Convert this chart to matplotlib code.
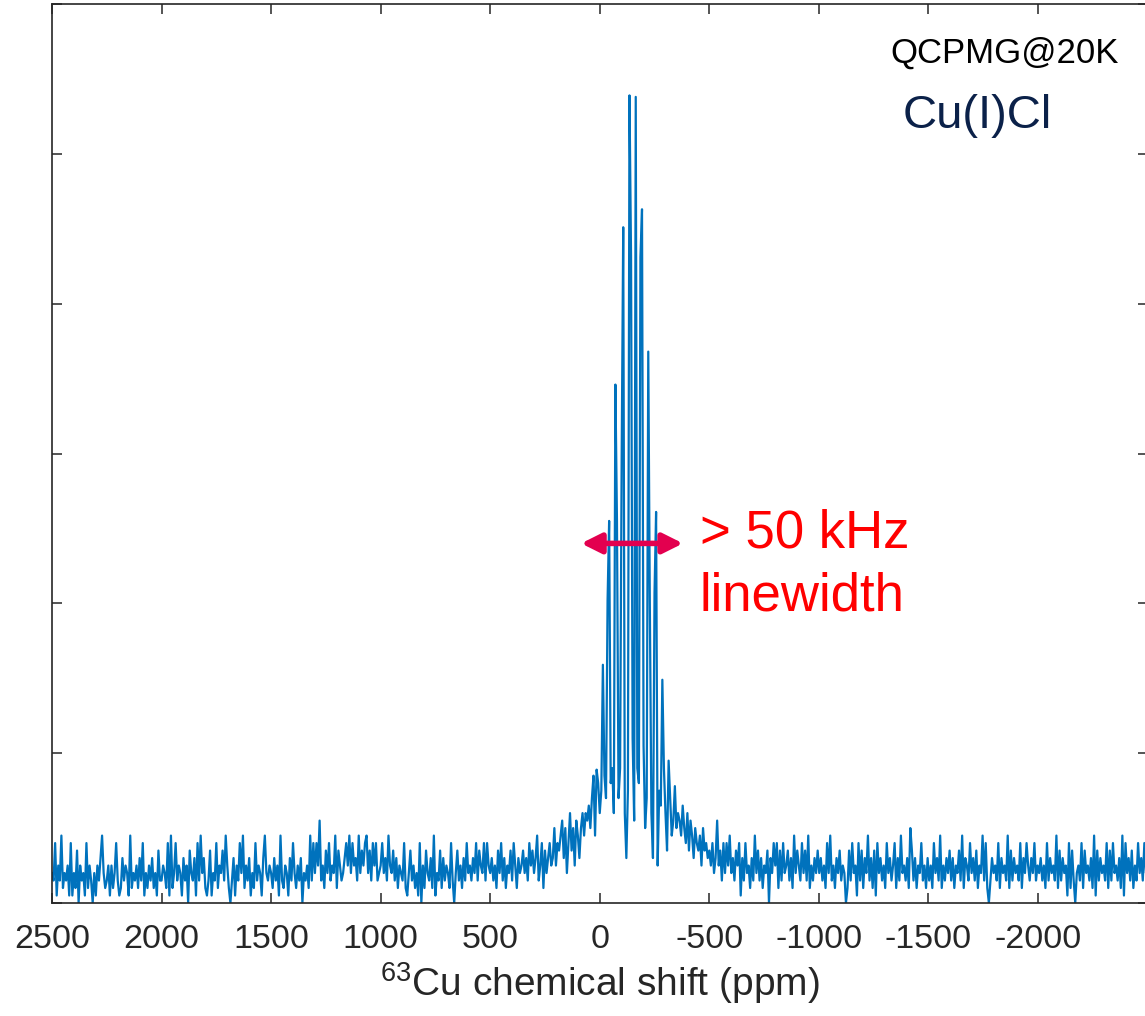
import numpy as np
import matplotlib.pyplot as plt

plt.rcParams['font.family'] = ['Liberation Sans', 'DejaVu Sans']
plt.rcParams['mathtext.fontset'] = 'custom'
plt.rcParams['mathtext.rm'] = 'Liberation Sans'

# baseline / hump levels, one base-36 char per sample, value = code * 0.05
left_codes = ("4381539243518142705341825304153694235152483126354192435263814253624173"
              "3542819248354163507436183946213714382547395203615384925361428354169435"
              "4263519325416384253604352938485b35274835492753468594856394758947385834"
              "5846395473625438214735241805274362914372635428304735263845364837548385")
center_codes = ("46352748362547385264"
                "57463857469358274685"
                "6a5879b6a48c7a5b96ac"
                "9cbdaeh9dgcfbheadgic"
                "g5ei3kc6fj4mb7ig3dla"
                "e4gc6hb5fd8ic7ge9bda"
                "cb9da8c7b96a8795a786")
right_codes = ("75846b5738485946375816384526394736254706485827384573629475384739253647"
               "4635284935264735402738451837264936271846352846358263945362a73625483526"
               "3528463925364736254739265384637254938203645382645392736453826485364835"
               "4635283645392736451827304538274536291736453827384536291846372538463845")

# QCPMG spikelets
spike_ppm = [15, -15, -45, -75, -105, -135, -165, -194, -224, -254, -284, -314, -344]
spike_height = [0.89, 1.59, 2.55, 3.46, 4.51, 5.39, 5.38, 4.63, 3.68, 2.61, 1.49, 0.95, 0.78]
companion_offset = [0, 0, -1, 1, -1, 1, 0, -1, 1, -1, 0, 0, 0]
companion_height = [0, 0, 2.02, 2.55, 2.97, 4.31, 0, 4.31, 1.99, 2.07, 0, 0, 0]

xticks = [2500, 2000, 1500, 1000, 500, 0, -500, -1000, -1500, -2000]


def decode(s):
    return np.array([int(c, 36) for c in s]) * 0.05


ppm = np.concatenate([
    np.linspace(2500, 500, len(left_codes), endpoint=False),
    np.linspace(500, -500, len(center_codes), endpoint=False),
    np.linspace(-500, -2500, len(right_codes)),
])
y = np.concatenate([decode(left_codes), decode(center_codes), decode(right_codes)])

for p, h, off, h2 in zip(spike_ppm, spike_height, companion_offset, companion_height):
    i = int(np.argmin(np.abs(ppm - p)))
    y[i] = h
    if off != 0:
        y[i + off] = h2

fig = plt.figure(figsize=(11.45, 10.16), dpi=100)
ax = fig.add_axes([52 / 1145, 113 / 1016, 1095.5 / 1145, 899 / 1016])

ax.plot(ppm, y, color='#0072BD', lw=1.6)

ax.set_xlim(2500, -2500)
ax.set_ylim(0, 6)
ax.set_xticks(xticks)
ax.set_xticklabels([str(t) for t in xticks])
ax.set_yticks(range(7))
ax.set_yticklabels([])
ax.tick_params(direction='in', length=7, width=1.1, color='#262626',
               top=True, right=True, labelsize=24.5, labelcolor='#262626', pad=15)
for sp in ax.spines.values():
    sp.set_color('#262626')
    sp.set_linewidth(1.2)

ax.set_xlabel('$^{63}$Cu chemical shift (ppm)', fontsize=28, color='#262626', labelpad=4)

ax.text(-1325, 5.61, 'QCPMG@20K', fontsize=25, color='black', va='baseline')
ax.text(-1384, 5.17, 'Cu(I)Cl', fontsize=34, color='#0b2149', va='baseline')
ax.text(-457, 2.37, '> 50 kHz', fontsize=38, color='#ff0000', va='baseline')
ax.text(-457, 1.95, 'linewidth', fontsize=38, color='#ff0000', va='baseline')

ax.annotate('', xy=(-380, 2.4), xytext=(85, 2.4),
            arrowprops=dict(arrowstyle='<|-|>', color='#e3004f', lw=4,
                            mutation_scale=30, shrinkA=0, shrinkB=0))

fig.savefig('out.png', dpi=100)
